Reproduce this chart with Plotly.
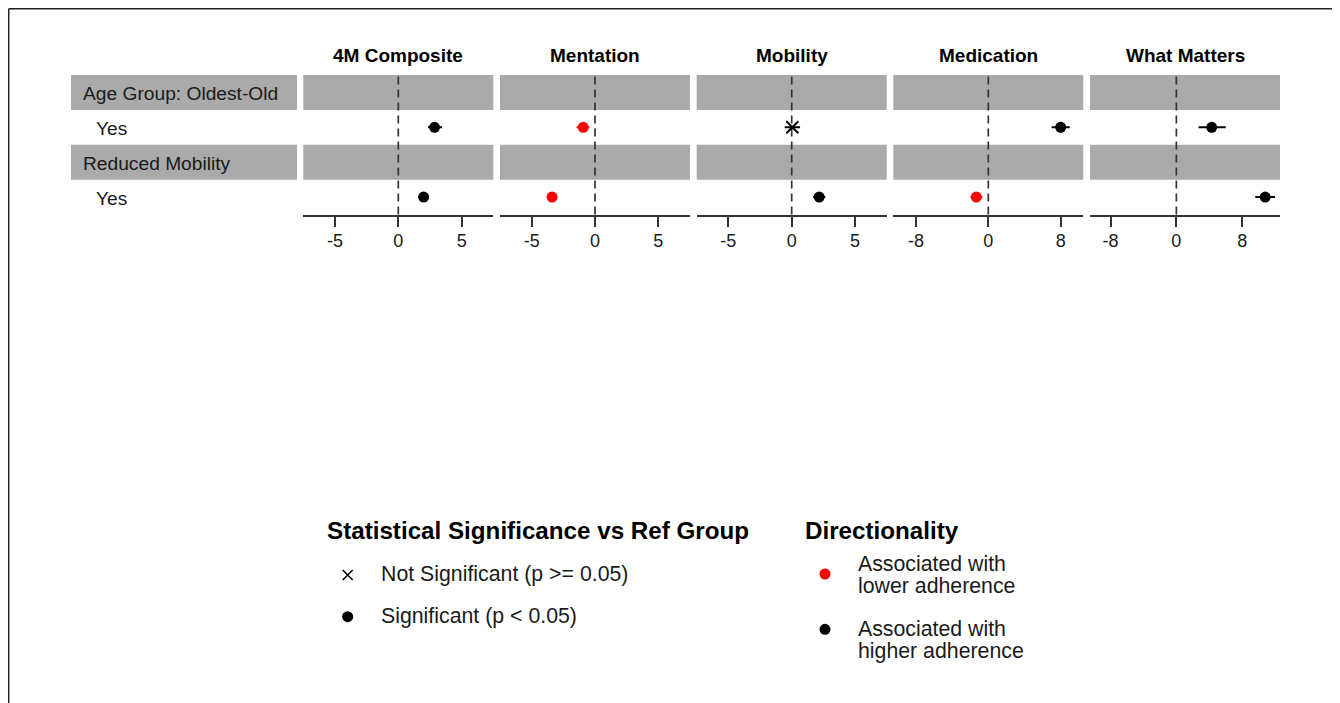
import plotly.graph_objects as go

# ---------------- data ----------------
outcomes = ["4M Composite", "Mentation", "Mobility", "Medication", "What Matters"]
outcome_ticks = [[-5, 0, 5], [-5, 0, 5], [-5, 0, 5], [-8, 0, 8], [-8, 0, 8]]
outcome_ranges = [[-7.5, 7.5], [-7.5, 7.5], [-7.5, 7.5], [-10.5, 10.5], [-10.5, 12.6]]

groups = ["Age Group: Oldest-Old", "Reduced Mobility"]
group_levels = ["Yes", "Yes"]

est_oldest = [2.86, -0.93, 0.05, 8.0, 4.3]
lo_oldest = [2.35, -1.45, -0.55, 7.0, 2.7]
hi_oldest = [3.45, -0.45, 0.66, 9.0, 6.0]
sig_oldest = [True, True, False, True, True]

est_reduced = [2.0, -3.39, 2.17, -1.33, 10.8]
lo_reduced = [1.7, -3.6, 1.7, -1.96, 9.6]
hi_reduced = [2.3, -3.2, 2.65, -0.67, 12.0]
sig_reduced = [True, True, True, True, True]

sig_labels = ["Not Significant (p >= 0.05)", "Significant (p < 0.05)"]
dir_labels = [["Associated with", "lower adherence"], ["Associated with", "higher adherence"]]
legend_titles = ["Statistical Significance vs Ref Group", "Directionality"]

# ---------------- layout constants ----------------
OFF = 8                      # page body margin
W, H = 1340 - OFF, 703 - OFF
FONT = "Liberation Sans, Arial, Helvetica, sans-serif"
RED, BLACK = "#FF0000", "#000000"
STRIP = "#AAAAAA"
AX = "#333333"
panel_px = [(303.3, 493.3), (500, 690), (696.7, 886.7), (893.3, 1083.3), (1090, 1280)]
plot_top_px, plot_bot_px = 75, 214.5
label_strip_px = (71, 297)
PAD = 2                      # annotation internal padding


def px(x):
    return (x - OFF) / W


def py(y):
    return 1 - (y - OFF) / H


rows = [
    {"est": est_oldest, "lo": lo_oldest, "hi": hi_oldest, "sig": sig_oldest, "y": 2.5},
    {"est": est_reduced, "lo": lo_reduced, "hi": hi_reduced, "sig": sig_reduced, "y": 0.5},
]
group_y = [3.5, 1.5]

fig = go.Figure()
shapes = []
annotations = []

for i, name in enumerate(outcomes):
    k = "" if i == 0 else str(i + 1)
    xa = "x" + k
    for r in rows:
        e, lo, hi, s = r["est"][i], r["lo"][i], r["hi"][i], r["sig"][i]
        col = RED if e < 0 else BLACK
        fig.add_trace(go.Scatter(
            x=[e], y=[r["y"]], xaxis=xa, yaxis="y", mode="markers",
            marker=dict(
                symbol="circle" if s else "x-thin",
                size=11 if s else 12,
                color=col,
                line=dict(width=0 if s else 2, color=col),
            ),
            error_x=dict(type="data", symmetric=False, array=[hi - e], arrayminus=[e - lo],
                         color=col, thickness=2, width=0),
            showlegend=False, hoverinfo="x",
        ))
    d0, d1 = panel_px[i]
    fig.update_layout(**{
        ("xaxis" + k): dict(
            domain=[px(d0), px(d1)], range=outcome_ranges[i], anchor="y",
            tickvals=outcome_ticks[i], ticktext=[str(v) for v in outcome_ticks[i]],
            showline=True, linecolor=AX, linewidth=1.5,
            ticks="outside", ticklen=11, tickwidth=1.5, tickcolor=AX,
            ticklabelstandoff=-2,
            tickfont=dict(family=FONT, size=18, color="#1a1a1a"),
            showgrid=False, zeroline=False, fixedrange=True,
        )
    })
    # strips in panel
    for gy in group_y:
        shapes.append(dict(type="rect", xref=xa + " domain", yref="y", x0=0, x1=1,
                           y0=gy - 0.5, y1=gy + 0.5, fillcolor=STRIP, line=dict(width=0),
                           layer="below"))
    # zero reference line
    shapes.append(dict(type="line", xref=xa, yref="y domain", x0=0, x1=0, y0=0, y1=1,
                       line=dict(color=AX, width=1.7, dash="8px,5px"), layer="below"))
    # panel title
    annotations.append(dict(text=name, xref="paper", yref="paper", x=px((d0 + d1) / 2),
                            y=py(55.5), xanchor="center", yanchor="middle", showarrow=False,
                            font=dict(family=FONT, size=19, color="#000", weight=700)))

# left label strips & labels
for gi, g in enumerate(groups):
    gy = group_y[gi]
    shapes.append(dict(type="rect", xref="paper", yref="y", x0=px(label_strip_px[0]),
                       x1=px(label_strip_px[1]), y0=gy - 0.5, y1=gy + 0.5,
                       fillcolor=STRIP, line=dict(width=0), layer="below"))
    annotations.append(dict(text=g, xref="paper", yref="y", x=px(82.5 - PAD), y=gy, yshift=-1.5,
                            xanchor="left", yanchor="middle", showarrow=False,
                            font=dict(family=FONT, size=19.2, color="#1a1a1a")))
    annotations.append(dict(text=group_levels[gi], xref="paper", yref="y", x=px(96.5 - PAD),
                            y=rows[gi]["y"], yshift=-1.5, xanchor="left", yanchor="middle",
                            showarrow=False, font=dict(family=FONT, size=19.2, color="#1a1a1a")))

# border lines (top & left), kept just inside the figure area
shapes.append(dict(type="line", xref="paper", yref="paper", x0=px(8.7), x1=1, y0=py(8.7), y1=py(8.7),
                   line=dict(color="#222", width=1.5)))
shapes.append(dict(type="line", xref="paper", yref="paper", x0=px(8.7), x1=px(8.7), y0=py(8.7), y1=0,
                   line=dict(color="#222", width=1.5)))

# ---------------- legends (drawn manually) ----------------
LEG1_X, LEG2_X = 327, 805
LEG_TITLE_Y = 530
key1_x, text1_x = 347.7, 381
key1_y = [575, 616.7]
text1_y = [574.2, 616.3]
key2_x, text2_x = 825, 858.3
key2_y = [574, 629.3]
text2_y = [[564, 585.8], [629.2, 650.8]]

for title, lx in zip(legend_titles, [LEG1_X, LEG2_X]):
    annotations.append(dict(text=title, xref="paper", yref="paper", x=px(lx - PAD), y=py(LEG_TITLE_Y),
                            xanchor="left", yanchor="middle", showarrow=False,
                            font=dict(family=FONT, size=24.2, color="#000", weight=700)))

fig.add_trace(go.Scatter(
    x=[key1_x], y=[key1_y[0]], xaxis="x6", yaxis="y6", mode="markers",
    marker=dict(symbol="x-thin", size=10, color=BLACK, line=dict(width=1.6, color=BLACK)),
    showlegend=False, hoverinfo="skip"))
fig.add_trace(go.Scatter(
    x=[key1_x], y=[key1_y[1]], xaxis="x6", yaxis="y6", mode="markers",
    marker=dict(symbol="circle", size=11, color=BLACK, line=dict(width=0)),
    showlegend=False, hoverinfo="skip"))
for c, ky in zip([RED, BLACK], key2_y):
    fig.add_trace(go.Scatter(
        x=[key2_x], y=[ky], xaxis="x6", yaxis="y6", mode="markers",
        marker=dict(symbol="circle", size=11, color=c, line=dict(width=0)),
        showlegend=False, hoverinfo="skip"))

for lab, ty in zip(sig_labels, text1_y):
    annotations.append(dict(text=lab, xref="paper", yref="paper", x=px(text1_x - PAD), y=py(ty),
                            xanchor="left", yanchor="middle", showarrow=False,
                            font=dict(family=FONT, size=21.3, color="#1a1a1a")))
for labs, tys in zip(dir_labels, text2_y):
    for lab, ty in zip(labs, tys):
        annotations.append(dict(text=lab, xref="paper", yref="paper", x=px(text2_x - PAD), y=py(ty),
                                xanchor="left", yanchor="middle", showarrow=False,
                                font=dict(family=FONT, size=21.3, color="#1a1a1a")))

fig.update_layout(
    width=W, height=H, margin=dict(l=0, r=0, t=0, b=0),
    paper_bgcolor="white", plot_bgcolor="rgba(0,0,0,0)",
    yaxis=dict(domain=[py(plot_bot_px), py(plot_top_px)], range=[0, 4], visible=False,
               fixedrange=True, anchor="x"),
    xaxis6=dict(domain=[0, 1], range=[OFF, OFF + W], visible=False, fixedrange=True, anchor="y6"),
    yaxis6=dict(domain=[0, 1], range=[OFF + H, OFF], visible=False, fixedrange=True, anchor="x6"),
    shapes=shapes, annotations=annotations,
    font=dict(family=FONT), showlegend=False,
)

fig.write_html("out.html")
